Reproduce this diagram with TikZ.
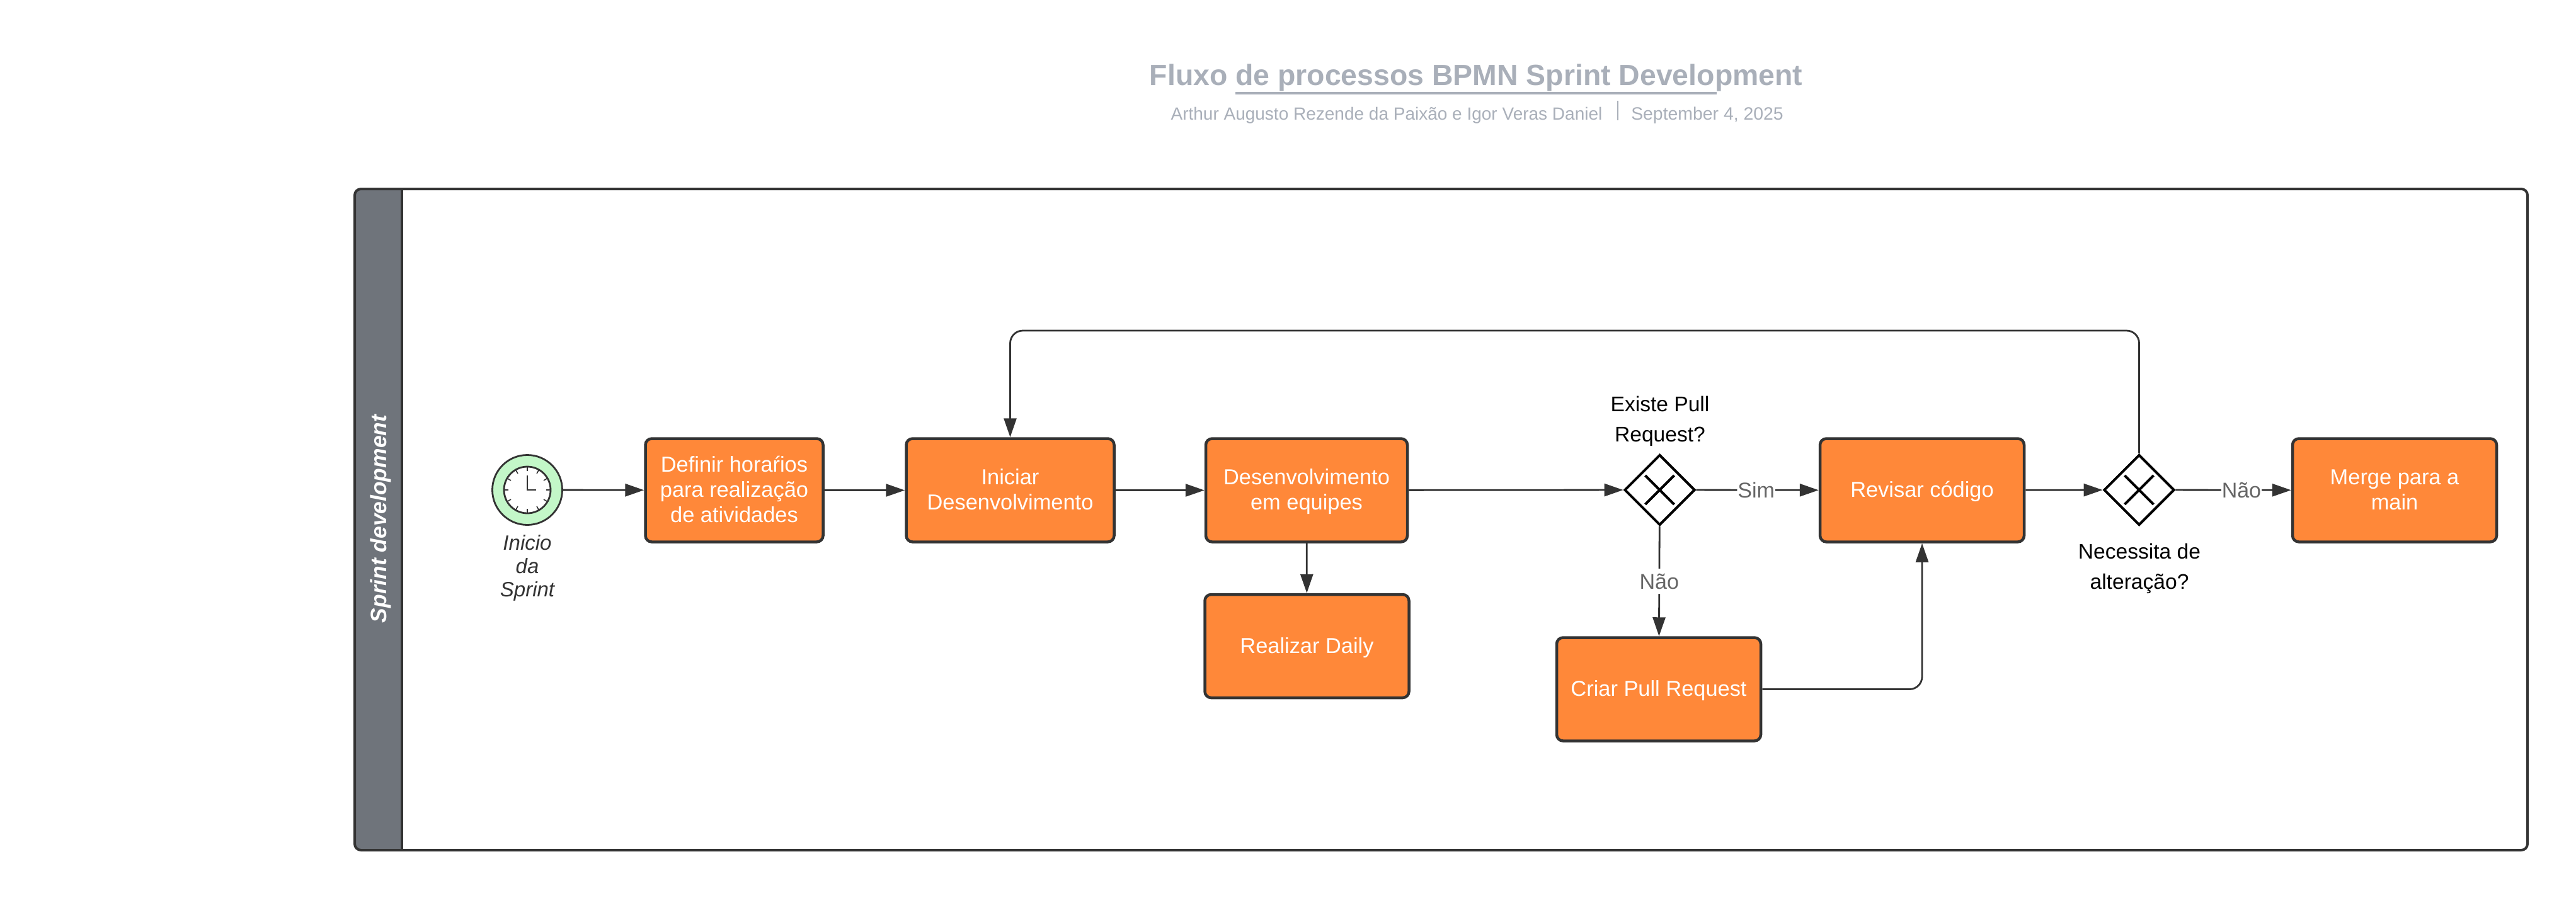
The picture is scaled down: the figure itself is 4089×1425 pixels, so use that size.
\documentclass[tikz,border=0pt]{standalone}
\usepackage{fontspec}
\setmainfont{Liberation Sans}
\usetikzlibrary{arrows.meta, shapes.geometric}
\definecolor{linedark}{HTML}{333333}
\definecolor{taskorange}{HTML}{FF8839}
\definecolor{lanegray}{HTML}{6F747B}
\definecolor{startgreen}{HTML}{C3F7C8}
\definecolor{titlegray}{HTML}{A9AFB9}
\definecolor{edgegray}{HTML}{666666}
\newcommand{\tstrut}{\vrule width 0pt height 15.5pt depth 4.5pt}
\begin{document}
\begin{tikzpicture}[
  x=0.5pt, y=-0.5pt,
  pool/.style={draw=linedark, line width=2pt, rounded corners=5pt, inner sep=0pt, minimum width=1724.5pt, minimum height=525pt},
  task/.style={draw=linedark, line width=2.25pt, rounded corners=5pt, fill=taskorange, text=white, inner sep=0pt, minimum height=82pt, align=center, font=\fontsize{17.2}{20}\selectfont},
  gate/.style={diamond, aspect=1, draw=black, line width=2pt, fill=white, inner sep=0pt, minimum width=56pt, minimum height=56pt},
  gatetext/.style={align=center, text=black, inner sep=0pt, font=\fontsize{16.8}{24}\selectfont},
  flow/.style={draw=linedark, line width=1.4pt, -{Triangle[length=15pt, width=10pt]}, rounded corners=10pt},
  flowtext/.style={fill=white, text=edgegray, inner sep=0.5pt, minimum height=20pt, font=\fontsize{17}{20}\selectfont}
]
  \useasboundingbox (0,0) rectangle (4089,1425);
  % title block
  \node[text=titlegray, inner sep=0pt, font=\fontsize{23.2}{26}\bfseries\selectfont] (ttitle) at (2343,123) {Fluxo de processos BPMN Sprint Development};
  \node[text=titlegray, inner sep=0pt, font=\fontsize{14}{16}\selectfont] (tauthor) at (2201,183) {Arthur Augusto Rezende da Paixão e Igor Veras Daniel};
  \node[text=titlegray, inner sep=0pt, font=\fontsize{14.2}{16}\selectfont] (tdate) at (2710,183) {September 4, 2025};
  \draw[titlegray, line width=2pt] (1961,148) -- (2725,148);
  \draw[titlegray, line width=1pt] (2568,160) -- (2568,191);
  % pool and lane
  \path[fill=lanegray, rounded corners=5pt] (637.5,300) -- (563,300) -- (563,1350) [sharp corners] -- (637.5,1350) -- cycle;
  \node[pool] (tpool) at (2287.5,825) {};
  \draw[linedark, line width=2pt] (637.5,300) -- (637.5,1350);
  \node[rotate=90, text=white, inner sep=0pt, font=\fontsize{17.7}{20}\bfseries\itshape\selectfont] (tlane) at (604,824) {Sprint development};
  % start event with clock
  \node[circle, draw=linedark, line width=1.4pt, fill=startgreen, inner sep=0pt, minimum size=55.5pt] (tstart) at (837,778) {};
  \node[circle, draw=linedark, line width=1.4pt, fill=white, inner sep=0pt, minimum size=37pt] (tclock) at (837,778) {};
  \foreach \a in {0,30,...,330}
    \draw[shift={(tclock.center)}, linedark, line width=0.8pt] (\a:30) -- (\a:37);
  \draw[linedark, line width=0.8pt] ([yshift=11.5pt]tclock.center) -- (tclock.center) -- ([xshift=7pt]tclock.center);
  \node[align=center, text=linedark, inner sep=0pt, font=\fontsize{16.5}{18.7}\itshape\selectfont] (tstartname) at (837,902) {Inicio\\da\\Sprint};
  % tasks
  \node[task, minimum width=141pt] (tdef) at (1165.5,778.5) {Definir horaŕios\tstrut\\para realização\tstrut\\de atividades\tstrut};
  \node[task, minimum width=165pt] (tini) at (1603.5,778.5) {Iniciar\tstrut\\Desenvolvimento\tstrut};
  \node[task, minimum width=160pt] (tdev) at (2074,778.5) {Desenvolvimento\tstrut\\em equipes\tstrut};
  \node[task, minimum width=162pt] (tdaily) at (2074.5,1026) {Realizar Daily\tstrut};
  \node[task, minimum width=162pt] (tpr) at (2633,1094.5) {Criar Pull Request\tstrut};
  \node[task, minimum width=162pt] (trev) at (3051,778.5) {Revisar código\tstrut};
  \node[task, minimum width=162pt] (tmerge) at (3801,778.5) {Merge para a\tstrut\\main\tstrut};
  % gateways
  \node[gate] (tg1) at (2634.5,778) {};
  \node[gate] (tg2) at (3395.5,778) {};
  \foreach \g in {tg1, tg2} {
    \draw[shift={(\g.center)}, black, line width=2pt] (-23,-23) -- (23,23);
    \draw[shift={(\g.center)}, black, line width=2pt] (-23,23) -- (23,-23);
  }
  \node[gatetext] (tg1name) at (2635,669) {Existe Pull\\Request?};
  \node[gatetext] (tg2name) at (3396,903) {Necessita de\\alteração?};
  % corners of the long way back
  \coordinate (tbackr) at (tg2.north |- 0,525);
  \coordinate (tbackl) at (tini.north |- 0,525);
  % connectors
  \draw[flow] (tstart) -- (tdef);
  \draw[flow] (tdef) -- (tini);
  \draw[flow] (tini) -- (tdev);
  \draw[flow] (tdev) -- (tg1);
  \draw[flow] (tdev) -- (tdaily);
  \draw[flow] (tg1) -- node[flowtext, pos=0.49] (tsim) {Sim} (trev);
  \draw[flow] (tg1) -- node[flowtext, pos=0.5] (tnao) {Não} (tpr);
  \draw[flow] (tpr) -| (trev);
  \draw[flow] (trev) -- (tg2);
  \draw[flow] (tg2) -- node[flowtext, pos=0.57] (tnao2) {Não} (tmerge);
  \draw[flow] (tg2.north) -- (tbackr) -- (tbackl) -- (tini.north);
\end{tikzpicture}
\end{document}
